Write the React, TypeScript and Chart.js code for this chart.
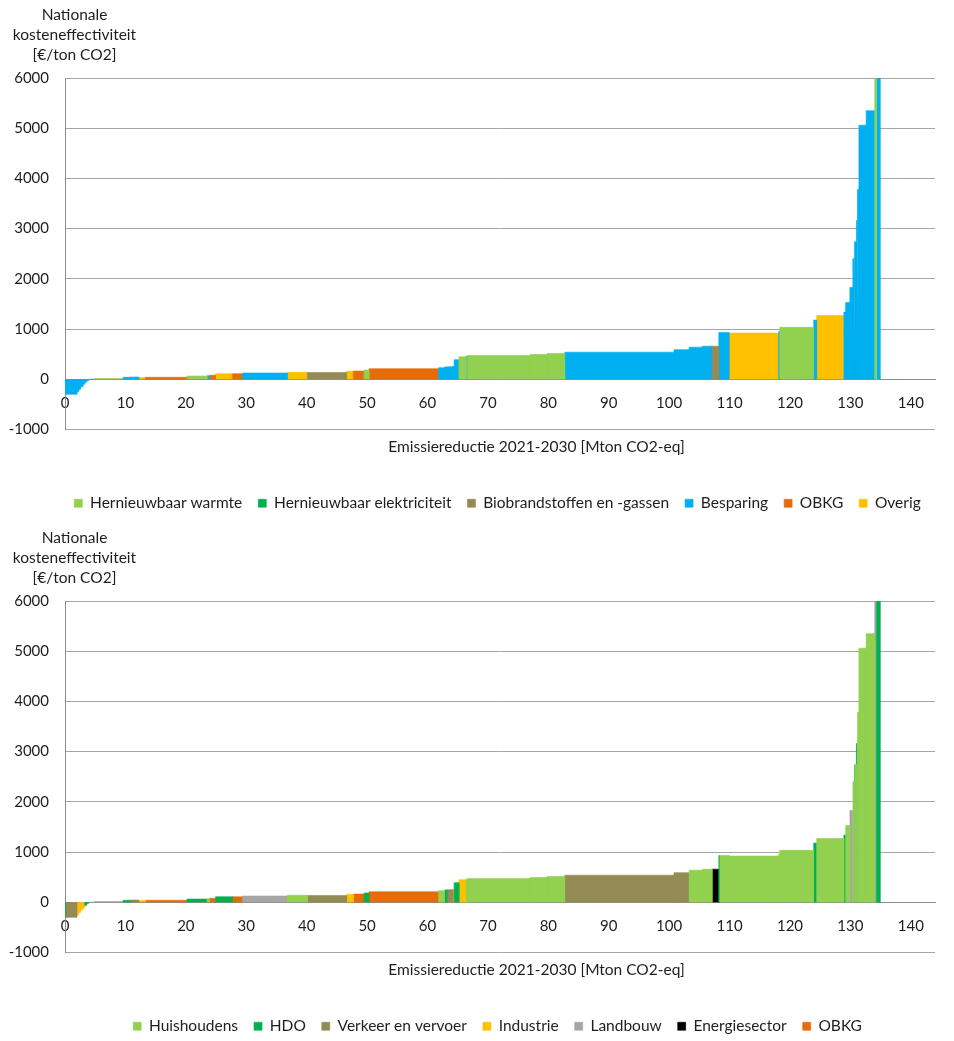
import React, { useEffect, useRef } from 'react';
import { Chart, registerables } from 'chart.js';

Chart.register(...registerables);

// ---- data -------------------------------------------------------------
// width of each measure (Mton CO2-eq reduction 2021-2030), in merit order
const measureWidths = [
  0.15, 1.85, 0.3, 0.3, 0.4, 0.3, 0.3, 0.3, 1.0,
  4.7, 1.1, 1.5, 1.1, 6.9, 3.3, 0.4, 1.0, 2.8, 1.7,
  7.4, 3.3, 6.5, 1.1, 1.8, 0.8, 11.5, 1.0, 0.4, 1.0,
  0.2, 0.8, 1.2, 0.2, 10.4, 2.8, 2.9, 18.1, 2.5, 2.2,
  1.6, 1.1, 0.2, 1.5, 8.2, 0.2, 5.6, 0.5, 4.5,
  0.3, 0.7, 0.5, 0.2, 0.1, 0.3, 0.1, 0.1, 0.2, 1.2, 1.4,
  0.3, 0.6,
];
// national cost-effectiveness of each measure (EUR/ton CO2)
const measureCosts = [
  -300, -300, -250, -200, -150, -100, -60, -30, 3,
  15, 40, 45, 35, 40, 65, 70, 80, 110, 110,
  125, 140, 135, 160, 165, 185, 210, 230, 245, 250,
  255, 390, 450, 460, 475, 495, 515, 540, 590, 640,
  660, 660, 930, 930, 920, 950, 1035, 1180, 1270,
  1340, 1530, 1830, 2400, 2740, 2740, 3160, 3160, 3780, 5060, 5350,
  6500, 7000,
];
// technology category per measure (index into techLabels)
const measureTech = [
  3, 3, 3, 3, 3, 3, 3, 3, 3,
  0, 3, 3, 5, 4, 0, 3, 4, 5, 4,
  3, 5, 2, 5, 4, 0, 4, 3, 3, 3,
  3, 3, 0, 3, 0, 0, 0, 3, 3, 3,
  3, 2, 3, 3, 5, 3, 0, 3, 5,
  3, 3, 3, 3, 3, 3, 3, 3, 3, 3, 3,
  0, 3,
];
// sector per measure (index into sectorLabels)
const measureSector = [
  1, 2, 3, 3, 3, 3, 1, 1, 4,
  4, 1, 2, 3, 6, 1, 0, 6, 1, 6,
  4, 0, 2, 3, 6, 1, 6, 0, 1, 2,
  3, 1, 3, 0, 0, 0, 0, 2, 2, 0,
  0, 5, 1, 0, 0, 0, 0, 1, 0,
  1, 0, 4, 0, 1, 0, 1, 0, 0, 0, 0,
  4, 1,
];

const techLabels = [
  'Hernieuwbaar warmte',
  'Hernieuwbaar elektriciteit',
  'Biobrandstoffen en -gassen',
  'Besparing',
  'OBKG',
  'Overig',
];
const techColors = ['#92D050', '#00B050', '#948A54', '#00B0F0', '#E46C0A', '#FFC000'];

const sectorLabels = [
  'Huishoudens',
  'HDO',
  'Verkeer en vervoer',
  'Industrie',
  'Landbouw',
  'Energiesector',
  'OBKG',
];
const sectorColors = ['#92D050', '#00B050', '#948A54', '#FFC000', '#A6A6A6', '#000000', '#E46C0A'];

const yTitleLines = ['Nationale', 'kosteneffectiviteit', '[€/ton CO2]'];
const xTitle = 'Emissiereductie 2021-2030 [Mton CO2-eq]';
const xMin = 0;
const xMax = 144;
const xStep = 10;
const yMin = -1000;
const yMax = 6000;
const yStep = 1000;

// ---- helpers ----------------------------------------------------------
const FONT = 'Lato, "Open Sans", sans-serif';
const TEXT = '#1e1e1e';

function buildDatasets(codes: number[], labels: string[], colors: string[]) {
  const starts: number[] = [];
  let acc = 0;
  for (const w of measureWidths) {
    starts.push(Math.round(acc * 1000) / 1000);
    acc += w;
  }
  return labels.map((label, c) => {
    const pts: { x: number; y: number | null }[] = [];
    let lastEnd: number | null = null;
    for (let i = 0; i < measureWidths.length; i++) {
      if (codes[i] !== c) continue;
      const x0 = starts[i];
      const x1 = Math.round((x0 + measureWidths[i]) * 1000) / 1000;
      if (lastEnd !== null && Math.abs(lastEnd - x0) > 1e-6) {
        pts.push({ x: (lastEnd + x0) / 2, y: null });
      }
      pts.push({ x: x0, y: 0 }, { x: x0, y: measureCosts[i] }, { x: x1, y: measureCosts[i] }, { x: x1, y: 0 });
      lastEnd = x1;
    }
    return {
      label,
      data: pts,
      backgroundColor: colors[c],
      borderColor: colors[c],
      borderWidth: 0.6,
      fill: 'origin',
      pointRadius: 0,
      pointHoverRadius: 0,
      tension: 0,
      spanGaps: false,
    };
  });
}

const titlesPlugin = {
  id: 'maccTitles',
  afterLayout(chart: any) {
    // centre the legend row under the plot like the original
    if (chart.legend) {
      chart.legend.left = 50;
      chart.legend.right = 945;
    }
  },
  afterDraw(chart: any) {
    const ctx = chart.ctx;
    ctx.save();
    ctx.fillStyle = TEXT;
    ctx.font = `15.5px ${FONT}`;
    ctx.textAlign = 'center';
    ctx.textBaseline = 'middle';
    yTitleLines.forEach((line, i) => ctx.fillText(line, 74.5, 15 + 20 * i));
    ctx.fillText(xTitle, 536.5, 447);
    ctx.restore();
  },
};

function MaccChart({ codes, labels, colors }: { codes: number[]; labels: string[]; colors: string[] }) {
  const ref = useRef<HTMLCanvasElement | null>(null);
  useEffect(() => {
    if (!ref.current) return;
    const chart = new Chart(ref.current, {
      type: 'line',
      data: { datasets: buildDatasets(codes, labels, colors) as any },
      plugins: [titlesPlugin],
      options: {
        responsive: false,
        animation: false,
        events: [],
        layout: { padding: { top: 78, right: 19, left: 0, bottom: 2 } },
        scales: {
          x: {
            type: 'linear',
            position: { y: 0 } as any,
            min: xMin,
            max: xMax,
            grid: { display: false, drawTicks: false },
            border: { display: true, color: '#8c8c8c', width: 1 },
            ticks: {
              stepSize: xStep,
              includeBounds: false,
              autoSkip: false,
              maxRotation: 0,
              padding: 15,
              color: TEXT,
              font: { family: FONT, size: 15 },
              callback: (v: any) => String(v),
            },
          },
          y: {
            type: 'linear',
            min: yMin,
            max: yMax,
            afterFit: (s: any) => {
              s.width = 65;
            },
            grid: { color: '#a6a6a6', drawTicks: false, lineWidth: 1 },
            border: { display: true, color: '#8c8c8c', width: 1 },
            ticks: {
              stepSize: yStep,
              padding: 16,
              color: TEXT,
              font: { family: FONT, size: 15 },
              callback: (v: any) => String(v),
            },
          },
        },
        plugins: {
          tooltip: { enabled: false },
          legend: {
            display: true,
            position: 'bottom',
            title: { display: true, text: '', padding: { top: 38, bottom: 0 }, font: { size: 10 } },
            labels: {
              boxWidth: 8,
              boxHeight: 8,
              padding: 16,
              color: TEXT,
              font: { family: FONT, size: 15.5 },
            },
          },
        },
      } as any,
    });
    return () => chart.destroy();
  }, [codes, labels, colors]);
  return <canvas ref={ref} width={954} height={523} style={{ display: 'block', width: 954, height: 523 }} />;
}

export default function App() {
  return (
    <div style={{ position: 'fixed', left: 0, top: 0, width: 954, height: 1041, overflow: 'hidden', background: '#fff' }}>
      <MaccChart codes={measureTech} labels={techLabels} colors={techColors} />
      <MaccChart codes={measureSector} labels={sectorLabels} colors={sectorColors} />
    </div>
  );
}
